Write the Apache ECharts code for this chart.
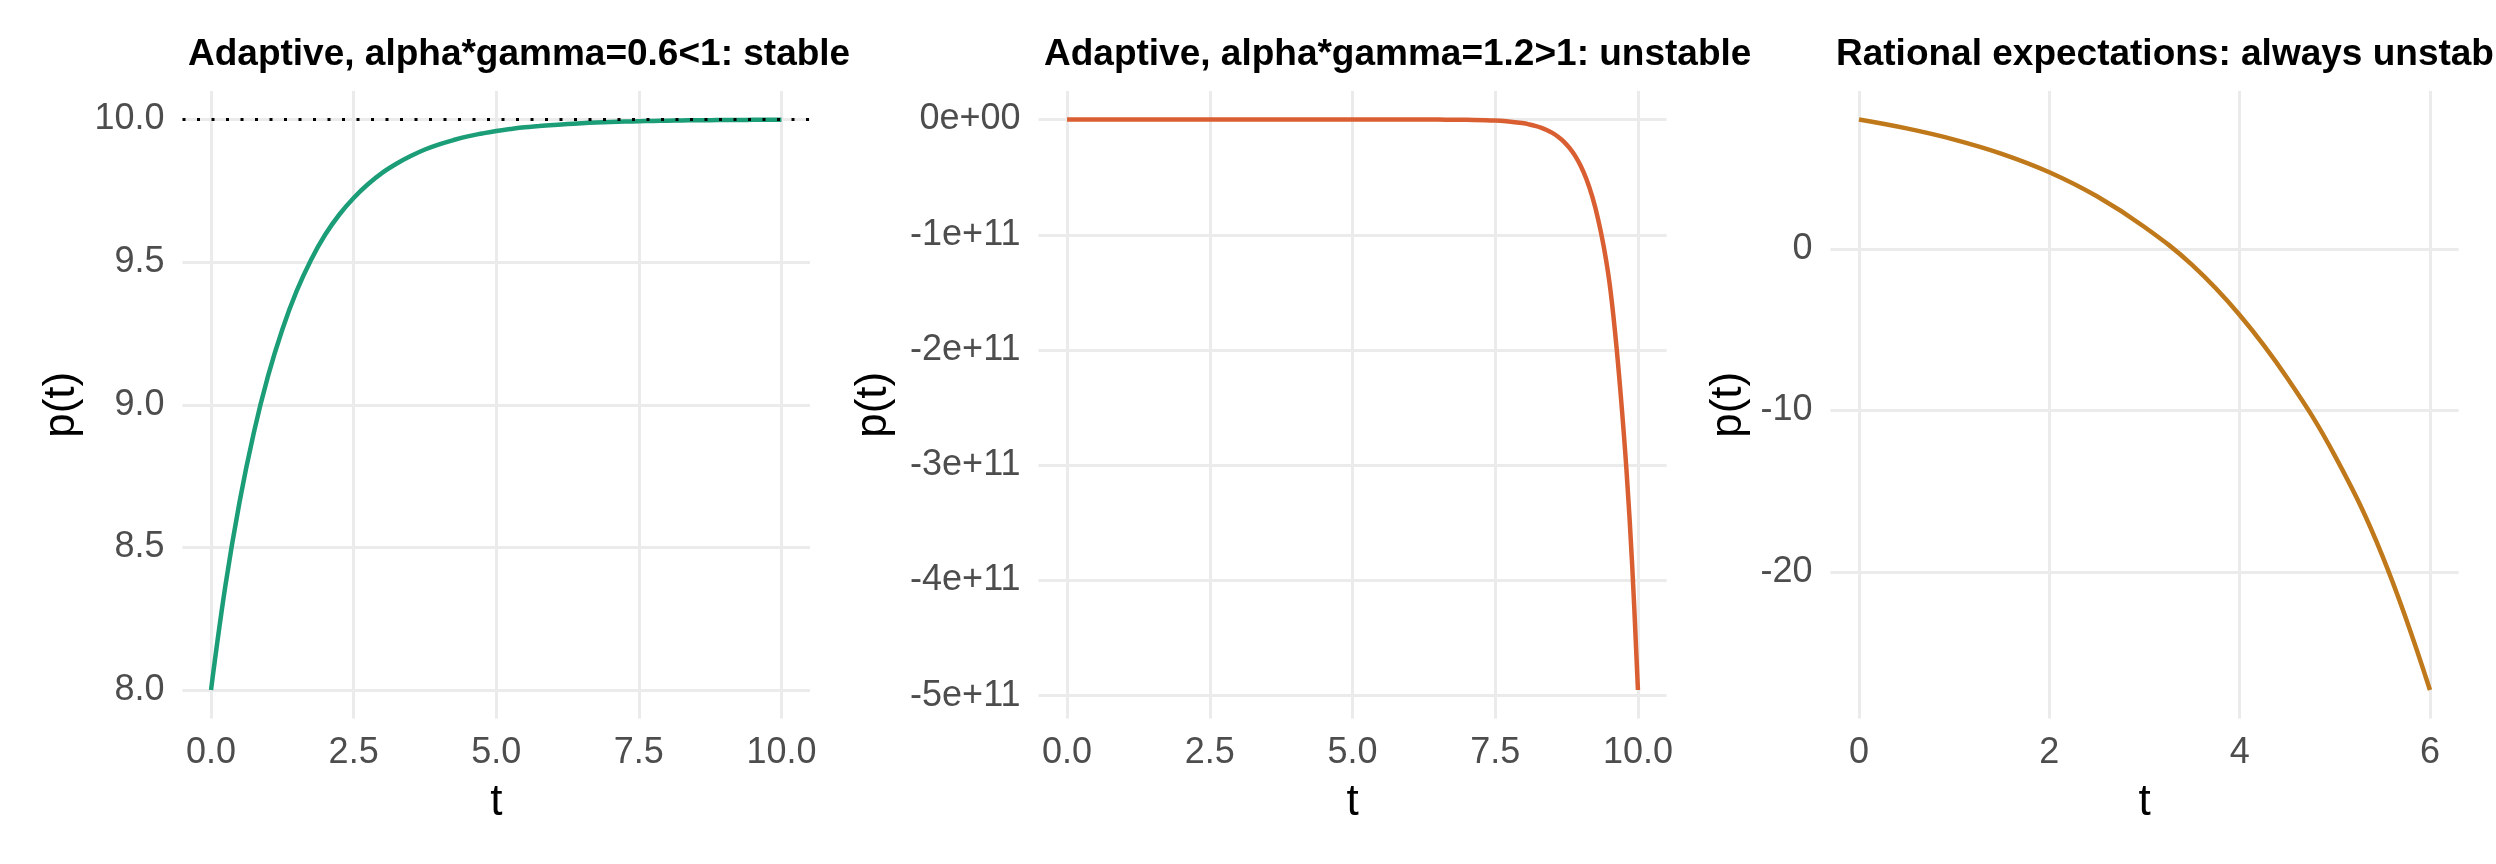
<!DOCTYPE html>
<html>
<head>
<meta charset="utf-8">
<script src="https://cdn.jsdelivr.net/npm/echarts@6/dist/echarts.min.js"></script>
<style>
  html, body { margin: 0; padding: 0; background: #fff; }
  #main { width: 2496px; height: 864px; }
</style>
</head>
<body>
<div id="main"></div>
<script>
// panel titles
var titles = [
  'Adaptive, alpha*gamma=0.6<1: stable',
  'Adaptive, alpha*gamma=1.2>1: unstable',
  'Rational expectations: always unstable'
];

// adaptive, stable
var tStable = [0, 0.25, 0.5, 0.75, 1, 1.25, 1.5, 1.75, 2, 2.25, 2.5, 2.75, 3, 3.25, 3.5, 3.75, 4, 4.25, 4.5, 4.75,
  5, 5.25, 5.5, 5.75, 6, 6.25, 6.5, 6.75, 7, 7.25, 7.5, 7.75, 8, 8.25, 8.5, 8.75, 9, 9.25, 9.5, 9.75, 10];
var pStable = [8.000, 8.363, 8.659, 8.902, 9.101, 9.264, 9.398, 9.507, 9.596, 9.667, 9.725, 9.773, 9.813, 9.845,
  9.872, 9.895, 9.913, 9.928, 9.941, 9.951, 9.960, 9.967, 9.973, 9.977, 9.981, 9.9845, 9.9872, 9.9894, 9.9913,
  9.9928, 9.9941, 9.9951, 9.996, 9.9967, 9.9973, 9.9978, 9.9982, 9.9985, 9.9988, 9.999, 9.9992];
var steadyState = 10;

// adaptive, unstable
var tUnstable = [0, 0.5, 1, 1.5, 2, 2.5, 3, 3.5, 4, 4.5, 5, 5.5, 6, 6.5, 7, 7.5,
  8, 8.1, 8.2, 8.3, 8.4, 8.5, 8.6, 8.7, 8.8, 8.9, 9, 9.1, 9.2, 9.3, 9.4, 9.5, 9.6, 9.7, 9.8, 9.9, 10];
var pUnstable = [8, -15, -70, -300, -1.0e3, -3.5e3, -1.2e4, -4.3e4, -1.5e5, -5.2e5, -1.8e6, -6.3e6, -2.2e7,
  -7.8e7, -2.7e8, -9.5e8,
  -3.3e9, -4.27e9, -5.48e9, -7.04e9, -9.03e9, -1.16e10, -1.49e10, -1.91e10, -2.46e10, -3.15e10,
  -4.05e10, -5.2e10, -6.7e10, -8.6e10, -1.10e11, -1.41e11, -1.85e11, -2.40e11, -3.05e11, -3.88e11, -4.95e11];

// rational expectations
var tRational = [0, 0.5, 1, 1.5, 2, 2.5, 3, 3.5, 4, 4.5, 5, 5.5, 6];
var pRational = [8.0, 7.45, 6.76, 5.88, 4.74, 3.25, 1.35, -1.0, -4.1, -8.0, -12.8, -19.0, -27.3];

// tick labels
var xTicksAdaptive = [0, 2.5, 5, 7.5, 10];
var yTicksStable = [8, 8.5, 9, 9.5, 10];
var yTicksUnstable = [-5e11, -4e11, -3e11, -2e11, -1e11, 0];
var xTicksRational = [0, 2, 4, 6];
var yTicksRational = [-20, -10, 0];

var colors = ['#1B9E77', '#D95F32', '#C0791A'];

function zip(xs, ys) {
  return xs.map(function (x, i) { return [x, ys[i]]; });
}

// R style: 0e+00, -1e+11
function sci(v) {
  if (v === 0) return '0e+00';
  var s = v.toExponential(0).split('e');
  var ex = parseInt(s[1], 10);
  var sign = ex < 0 ? '-' : '+';
  ex = Math.abs(ex);
  return s[0] + 'e' + sign + (ex < 10 ? '0' + ex : ex);
}

var font = 'Liberation Sans, Arial, Helvetica, sans-serif';
var gridLine = { show: true, lineStyle: { color: '#EBEBEB', width: 3 } };

function xAxis(idx, min, max, ticks, fmt) {
  return {
    type: 'value', gridIndex: idx, min: min, max: max,
    name: 't', nameLocation: 'middle', nameGap: 62,
    nameTextStyle: { fontSize: 44, color: '#000', fontFamily: font },
    axisLine: { show: false },
    axisTick: { show: false, customValues: ticks },
    axisLabel: { customValues: ticks, fontSize: 36, color: '#4D4D4D', fontFamily: font, margin: 17, formatter: fmt },
    splitLine: gridLine
  };
}

function yAxis(idx, min, max, ticks, fmt, gap) {
  return {
    type: 'value', gridIndex: idx, min: min, max: max,
    name: 'p(t)', nameLocation: 'middle', nameGap: gap,
    nameTextStyle: { fontSize: 44, color: '#000', fontFamily: font },
    axisLine: { show: false },
    axisTick: { show: false, customValues: ticks },
    axisLabel: { customValues: ticks, fontSize: 36, color: '#4D4D4D', fontFamily: font, margin: 18, formatter: fmt },
    splitLine: gridLine
  };
}

var fmt1 = function (v) { return v.toFixed(1); };
var fmt0 = function (v) { return String(v); };

var chart = echarts.init(document.getElementById('main'));
chart.setOption({
  backgroundColor: '#fff',
  animation: false,
  title: [
    { text: titles[0], left: 183, top: 31 },
    { text: titles[1], left: 1039, top: 31 },
    { text: titles[2], left: 1831, top: 31 }
  ].map(function (t) {
    t.textStyle = { fontSize: 37, fontWeight: 'bold', color: '#000', fontFamily: font };
    return t;
  }),
  grid: [
    { left: 182.5, top: 91, width: 627.5, height: 627.5 },
    { left: 1038.5, top: 91, width: 628, height: 627.5 },
    { left: 1830.5, top: 91, width: 628, height: 627.5 }
  ],
  xAxis: [
    xAxis(0, -0.5, 10.5, xTicksAdaptive, fmt1),
    xAxis(1, -0.5, 10.5, xTicksAdaptive, fmt1),
    xAxis(2, -0.3, 6.3, xTicksRational, fmt0)
  ],
  yAxis: [
    yAxis(0, 7.9, 10.1, yTicksStable, fmt1, 99),
    yAxis(1, -5.1975e11, 2.475e10, yTicksUnstable, sci, 143),
    yAxis(2, -29.065, 9.765, yTicksRational, fmt0, 80)
  ],
  series: [
    {
      type: 'line', xAxisIndex: 0, yAxisIndex: 0,
      data: zip(tStable, pStable),
      showSymbol: false, smooth: 0.4,
      lineStyle: { color: colors[0], width: 4.5 },
      markLine: {
        silent: true, symbol: 'none', label: { show: false }, z: 5,
        lineStyle: { color: '#000', type: [3, 11.5], width: 3.2 },
        data: [{ yAxis: steadyState }]
      }
    },
    {
      type: 'line', xAxisIndex: 1, yAxisIndex: 1,
      data: zip(tUnstable, pUnstable),
      showSymbol: false, smooth: 0.4,
      lineStyle: { color: colors[1], width: 4.5 }
    },
    {
      type: 'line', xAxisIndex: 2, yAxisIndex: 2,
      data: zip(tRational, pRational),
      showSymbol: false, smooth: 0.4,
      lineStyle: { color: colors[2], width: 4.5 }
    }
  ]
});
</script>
</body>
</html>
